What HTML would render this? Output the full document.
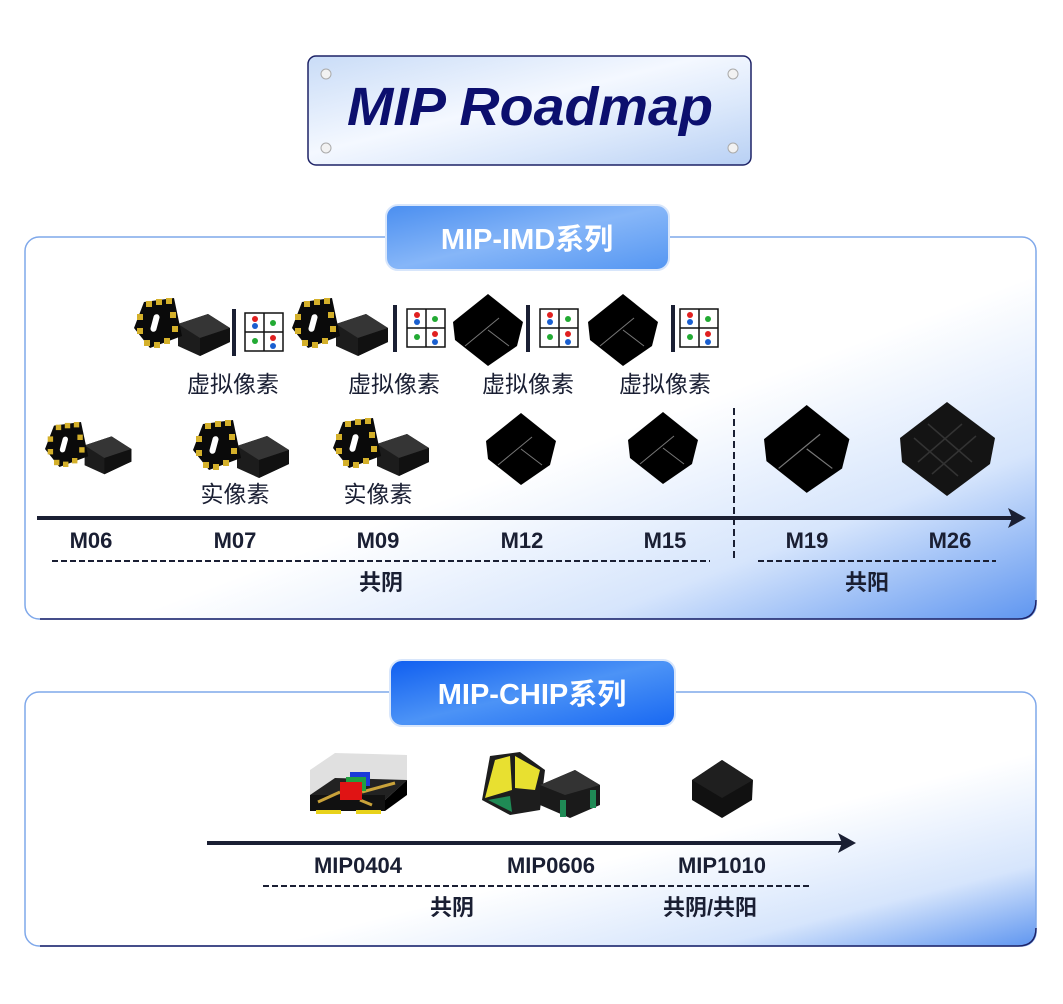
<!DOCTYPE html>
<html><head><meta charset="utf-8"><style>
html,body{margin:0;padding:0;background:#fff;}
svg{display:block;}
text{font-family:"Liberation Sans","Noto Sans CJK SC",sans-serif;}
</style></head><body>
<svg width="1063" height="1004" viewBox="0 0 1063 1004" xmlns="http://www.w3.org/2000/svg">
<defs>
<linearGradient id="plate" x1="0" y1="0" x2="1" y2="1">
<stop offset="0" stop-color="#c9dcf7"/><stop offset="0.45" stop-color="#f4f8ff"/><stop offset="0.7" stop-color="#dbe8fb"/><stop offset="1" stop-color="#b8d0f4"/></linearGradient>
<linearGradient id="panel" x1="0" y1="0" x2="1" y2="1">
<stop offset="0" stop-color="#ffffff"/><stop offset="0.55" stop-color="#ffffff"/><stop offset="0.78" stop-color="#d6e5fc"/><stop offset="1" stop-color="#5f96f0"/></linearGradient>
<linearGradient id="panel2" x1="0" y1="0" x2="1" y2="1">
<stop offset="0" stop-color="#ffffff"/><stop offset="0.62" stop-color="#ffffff"/><stop offset="0.84" stop-color="#d6e5fc"/><stop offset="1" stop-color="#5f96f0"/></linearGradient>
<linearGradient id="pill1" x1="0" y1="0" x2="1" y2="1">
<stop offset="0" stop-color="#4a8ef0"/><stop offset="0.5" stop-color="#86b6f8"/><stop offset="1" stop-color="#5496f2"/></linearGradient>
<linearGradient id="pill2" x1="0" y1="0" x2="1" y2="1">
<stop offset="0" stop-color="#0f5ef0"/><stop offset="0.5" stop-color="#4c93f6"/><stop offset="1" stop-color="#1868f2"/></linearGradient>
<g id="pin">
<polygon points="44,26 74,16 96,30 96,44 66,58 44,48" fill="#1c1c1c"/>
<polygon points="44,26 74,16 96,30 66,40" fill="#353535"/>
<polygon points="66,40 96,30 96,44 66,58" fill="#111"/>
<polygon points="10,4 40,0 48,38 16,50 0,30" fill="#0a0a0a"/>
<g fill="#d4b02a">
<rect x="12" y="3" width="6" height="6"/><rect x="22" y="1" width="6" height="6"/><rect x="32" y="0" width="6" height="6"/>
<rect x="3" y="16" width="6" height="6"/><rect x="36" y="14" width="6" height="6"/>
<rect x="3" y="30" width="6" height="6"/><rect x="38" y="28" width="6" height="6"/>
<rect x="10" y="42" width="6" height="6"/><rect x="20" y="44" width="6" height="6"/><rect x="30" y="40" width="6" height="6"/>
</g>
<rect x="18" y="16" width="6" height="18" rx="3" fill="#fff" transform="rotate(15 21 25)"/>
</g>
<g id="cube">
<polygon points="35,0 70,28 64,52 35,72 2,46 0,28" fill="#000"/>
<path d="M12,52 L46,24 M35,36 L56,52" stroke="#777" stroke-width="1"/>
</g>
<g id="grid">
<rect x="0" y="0" width="38" height="38" fill="#fff" stroke="#111" stroke-width="1.5"/>
<path d="M19,0 V38 M0,19 H38" stroke="#111" stroke-width="1.5"/>
<circle cx="10" cy="6" r="3" fill="#e02020"/><circle cx="10" cy="13" r="3" fill="#1a5fd0"/>
<circle cx="28" cy="10" r="3" fill="#22aa33"/><circle cx="10" cy="28" r="3" fill="#22aa33"/>
<circle cx="28" cy="25" r="3" fill="#e02020"/><circle cx="28" cy="33" r="3" fill="#1a5fd0"/>
</g>
</defs>

<rect x="308" y="56" width="443" height="109" rx="8" fill="url(#plate)" stroke="#1d2266" stroke-width="1.5"/>
<circle cx="326" cy="74" r="5" fill="#f2f2f2" stroke="#aaa"/><circle cx="733" cy="74" r="5" fill="#f2f2f2" stroke="#aaa"/>
<circle cx="326" cy="148" r="5" fill="#f2f2f2" stroke="#aaa"/><circle cx="733" cy="148" r="5" fill="#f2f2f2" stroke="#aaa"/>
<text x="530" y="125" text-anchor="middle" font-size="54" font-weight="bold" font-style="italic" fill="#0c0f6e" textLength="366" lengthAdjust="spacingAndGlyphs">MIP Roadmap</text>

<rect x="25" y="237" width="1011" height="382" rx="14" fill="url(#panel)" stroke="#7fa8ea" stroke-width="1.5"/>
<path d="M1036,600 Q1036,619 1018,619 L40,619" fill="none" stroke="#1d2266" stroke-width="1.5"/>
<rect x="386" y="205" width="283" height="65" rx="12" fill="url(#pill1)" stroke="#d8e6fb" stroke-width="2"/>
<text x="527" y="249" text-anchor="middle" font-size="29" font-weight="bold" fill="#fff">MIP-IMD系列</text>

<use href="#pin" x="134" y="298"/>
<rect x="232" y="309" width="4" height="47" fill="#1a1f33"/>
<use href="#grid" x="245" y="313"/>
<use href="#pin" x="292" y="298"/>
<rect x="393" y="305" width="4" height="47" fill="#1a1f33"/>
<use href="#grid" x="407" y="309"/>
<use href="#cube" x="453" y="294"/>
<rect x="526" y="305" width="4" height="47" fill="#1a1f33"/>
<use href="#grid" x="540" y="309"/>
<use href="#cube" x="588" y="294"/>
<rect x="671" y="305" width="4" height="47" fill="#1a1f33"/>
<use href="#grid" x="680" y="309"/>
<g font-size="23" fill="#1a1f33" text-anchor="middle">
<text x="233" y="392">虚拟像素</text><text x="394" y="392">虚拟像素</text>
<text x="528" y="392">虚拟像素</text><text x="665" y="392">虚拟像素</text>
<text x="235" y="502">实像素</text><text x="378" y="502">实像素</text>
</g>

<use href="#pin" x="0" y="0" transform="translate(45 422) scale(0.9)"/>
<use href="#pin" x="193" y="420"/>
<use href="#pin" x="333" y="418"/>
<use href="#cube" x="486" y="413"/>
<use href="#cube" x="628" y="412"/>
<use href="#cube" x="0" y="0" transform="translate(764 405) scale(1.22)"/>
<g transform="translate(900 402)">
<polygon points="47,0 95,36 90,62 47,94 2,60 0,36" fill="#141414"/>
<path d="M18,60 L62,22 M32,72 L76,34 M28,22 L72,60 M14,36 L58,74" stroke="#333" stroke-width="1.5"/>
</g>

<line x1="734" y1="408" x2="734" y2="558" stroke="#1a1f33" stroke-width="2" stroke-dasharray="7,4"/>
<line x1="37" y1="518" x2="1016" y2="518" stroke="#1a1f33" stroke-width="4"/>
<polygon points="1026,518 1008,508 1012,518 1008,528" fill="#1a1f33"/>
<g font-size="22" font-weight="bold" fill="#1a1f33" text-anchor="middle">
<text x="91" y="548">M06</text><text x="235" y="548">M07</text><text x="378" y="548">M09</text>
<text x="522" y="548">M12</text><text x="665" y="548">M15</text><text x="807" y="548">M19</text><text x="950" y="548">M26</text>
<text x="381" y="590">共阴</text><text x="867" y="590">共阳</text>
</g>
<line x1="52" y1="561" x2="710" y2="561" stroke="#1a1f33" stroke-width="2" stroke-dasharray="6,3"/>
<line x1="758" y1="561" x2="996" y2="561" stroke="#1a1f33" stroke-width="2" stroke-dasharray="6,3"/>

<rect x="25" y="692" width="1011" height="254" rx="14" fill="url(#panel2)" stroke="#7fa8ea" stroke-width="1.5"/>
<path d="M1036,928 Q1036,946 1018,946 L40,946" fill="none" stroke="#1d2266" stroke-width="1.5"/>
<rect x="390" y="660" width="285" height="66" rx="12" fill="url(#pill2)" stroke="#d8e6fb" stroke-width="2"/>
<text x="532" y="704" text-anchor="middle" font-size="29" font-weight="bold" fill="#fff">MIP-CHIP系列</text>

<polygon points="310,770 335,753 407,755 407,790 310,795" fill="#d8d8d8" opacity="0.8"/>
<polygon points="310,795 335,778 407,780 385,800" fill="#222"/>
<rect x="310" y="795" width="75" height="16" fill="#111"/>
<polygon points="385,800 407,780 407,795 385,811" fill="#000"/>
<rect x="316" y="810" width="25" height="4" fill="#e8d21a"/><rect x="356" y="810" width="25" height="4" fill="#e8d21a"/>
<path d="M318,802 L340,792 M362,792 L395,783 M360,800 L372,805" stroke="#c9a23a" stroke-width="3" fill="none"/>
<rect x="350" y="772" width="20" height="14" fill="#1a3ad8"/>
<rect x="346" y="777" width="20" height="14" fill="#20a040"/>
<rect x="340" y="782" width="22" height="18" fill="#e01414"/>
<polygon points="490,756 520,752 545,770 540,810 510,815 482,800" fill="#1d1d1d"/>
<polygon points="495,760 510,756 512,790 485,798" fill="#e8e030"/>
<polygon points="515,756 540,770 535,790 515,788" fill="#e8e030"/>
<polygon points="488,800 510,796 512,812" fill="#1f8a55"/>
<polygon points="540,785 575,770 600,785 600,805 570,818 540,805" fill="#1a1a1a"/>
<polygon points="540,785 575,770 600,785 565,795" fill="#333"/>
<rect x="590" y="790" width="6" height="18" fill="#1f8a55"/><rect x="560" y="800" width="6" height="17" fill="#1f8a55"/>
<polygon points="722,760 753,780 752,800 722,818 692,800 692,780" fill="#111"/>
<polygon points="722,760 753,780 722,798 692,780" fill="#1f1f1f"/>

<line x1="207" y1="843" x2="845" y2="843" stroke="#1a1f33" stroke-width="4"/>
<polygon points="856,843 838,833 842,843 838,853" fill="#1a1f33"/>
<g font-size="22" font-weight="bold" fill="#1a1f33" text-anchor="middle">
<text x="358" y="873">MIP0404</text><text x="551" y="873">MIP0606</text><text x="722" y="873">MIP1010</text>
<text x="452" y="915">共阴</text><text x="710" y="915">共阴/共阳</text>
</g>
<line x1="263" y1="886" x2="810" y2="886" stroke="#1a1f33" stroke-width="2" stroke-dasharray="6,3"/>
</svg>
</body></html>
